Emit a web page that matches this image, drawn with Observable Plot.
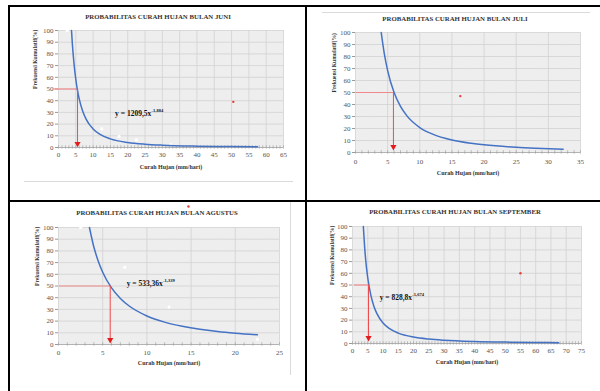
<!DOCTYPE html>
<html>
<head>
<meta charset="utf-8">
<script src="https://cdn.jsdelivr.net/npm/d3@7"></script>
<script src="https://cdn.jsdelivr.net/npm/@observablehq/plot@0.6"></script>
<style>
  html, body { margin: 0; padding: 0; background: #fff; }
  #page { position: relative; width: 600px; height: 391px; overflow: hidden; background: #fff; }
  .line { position: absolute; background: #000; }
  .faint { position: absolute; background: #dadada; }
  .panel { position: absolute; }
  .title { position: absolute; transform: translate(-50%, -50%); white-space: nowrap;
           font-family: "Liberation Serif", "DejaVu Serif", serif; font-weight: bold;
           font-size: 6.8px; color: #333; }
</style>
</head>
<body>
<div id="page">
  <div class="faint" style="left:24px;top:181px;width:269px;height:1px"></div>
  <div class="faint" style="left:322px;top:12px;width:268px;height:1px"></div>
  <div class="faint" style="left:290px;top:202px;width:1px;height:173px"></div>
</div>
<script>
// ---------- data ----------
const titles = [
  "PROBABILITAS CURAH HUJAN BULAN JUNI",
  "PROBABILITAS CURAH HUJAN BULAN JULI",
  "PROBABILITAS CURAH HUJAN BULAN AGUSTUS",
  "PROBABILITAS CURAH HUJAN BULAN SEPTEMBER"
];
const xTitle = "Curah Hujan (mm/hari)";
const yTitle = "Frekuensi Kumulatif(%)";
const yTicks = [0, 10, 20, 30, 40, 50, 60, 70, 80, 90, 100];

const juniTicks = [0, 5, 10, 15, 20, 25, 30, 35, 40, 45, 50, 55, 60, 65];
const juliTicks = [0, 5, 10, 15, 20, 25, 30, 35];
const agustusTicks = [0, 5, 10, 15, 20, 25];
const septemberTicks = [0, 5, 10, 15, 20, 25, 30, 35, 40, 45, 50, 55, 60, 65, 70, 75];

// fitted curves
const juniX = [3.76, 4, 4.5, 5, 5.5, 6, 7, 8, 10, 12, 15, 20, 25, 30, 40, 50, 57.5];
const juniY = [100, 88.8, 71.1, 58.3, 48.7, 41.3, 30.9, 24.0, 15.8, 11.2, 7.36, 4.28, 2.81, 1.99, 1.16, 0.76, 0.59];
const juliX = [4, 4.5, 5, 6, 7, 8, 10, 12, 15, 18, 20, 25, 28, 32.3];
const juliY = [100, 81.7, 68.2, 49.9, 38.4, 30.5, 20.8, 15.3, 10.4, 7.64, 6.37, 4.35, 3.59, 2.81];
const agustusX = [3.5, 4, 4.5, 5, 6, 7, 8, 10, 12, 14, 16, 18, 20, 22.5];
const agustusY = [100, 83.3, 71.2, 61.8, 48.4, 39.4, 32.9, 24.4, 19.1, 15.6, 13.0, 11.1, 9.66, 8.24];
const septemberX = [3.55, 4, 4.5, 5, 6, 7, 8, 10, 12, 15, 20, 25, 30, 40, 50, 60, 67.5];
const septemberY = [100, 81.5, 66.8, 56.0, 41.3, 31.9, 25.5, 17.5, 12.9, 8.91, 5.50, 3.79, 2.79, 1.72, 1.19, 0.88, 0.72];

// faint white observation markers
const juniPtsX = [2.5, 12.5, 17.5, 22.5, 32.5];
const juniPtsY = [100, 16, 9.5, 6.5, 2.5];
const agustusPtsX = [2.5, 7.5, 12.5, 22.5];
const agustusPtsY = [100, 66, 32, 4.5];

// stray red markers
const redDotX = [50.5, 16.3, 14.7, 55];
const redDotY = [39, 47, 118, 60];

// 50% read-off lines
const readStartX = [-1.4, 0.1, 0.1, 0.6];
const readX = [5.5, 5.9, 5.85, 5.25];
const readLevel = 50;
const arrowY = [3.2, 4.7, 4, 4.8];

// equations
const eqMain = ["y = 1209,5x", null, "y = 533,36x", "y = 828,8x"];
const eqExp = ["-1,884", null, "-1,339", "-1,674"];
const eqX = [26.8, null, 11.8, 19.5];
const eqY = [29, null, 52, 39.6];

// ---------- layout ----------
const panels = [
  {left: 20, top: 22, w: 225, h: 117, mt: 8, xmax: 65, ticks: juniTicks, cx: juniX, cy: juniY, px: juniPtsX, py: juniPtsY, tickPad: 5, xtOff: 21, ytOff: 23, tx: 158, ty: 16},
  {left: 317, top: 24, w: 225, h: 120, mt: 8, xmax: 35, ticks: juliTicks, cx: juliX, cy: juliY, px: [], py: [], tickPad: 7, xtOff: 22, ytOff: 21, tx: 455, ty: 18},
  {left: 20, top: 200, w: 221, h: 117, mt: 27, xmax: 25, ticks: agustusTicks, cx: agustusX, cy: agustusY, px: agustusPtsX, py: agustusPtsY, tickPad: 6, xtOff: 20, ytOff: 21.5, tx: 157, ty: 212},
  {left: 314, top: 218, w: 229, h: 117, mt: 8, xmax: 75, ticks: septemberTicks, cx: septemberX, cy: septemberY, px: [], py: [], tickPad: 5, xtOff: 20, ytOff: 20.5, tx: 455, ty: 211}
];

const page = document.getElementById("page");
const font = "Liberation Serif";

panels.forEach((p, i) => {
  const ml = 38, mr = 12, mb = 34;
  const curve = p.cx.map((x, k) => ({x, y: p.cy[k]}));
  const pts = p.px.map((x, k) => ({x, y: p.py[k]}));
  const minor = d3.range(0, p.xmax + 0.001, 1);
  const hatchId = "hatch" + i;
  const marks = [
    Plot.frame({fill: `url(#${hatchId})`, stroke: null}),
    Plot.gridX(p.ticks, {stroke: "#d2d2d2", strokeOpacity: 1, strokeWidth: 0.8}),
    Plot.gridY(yTicks, {stroke: "#d2d2d2", strokeOpacity: 1, strokeWidth: 0.8}),
    Plot.ruleY([0], {stroke: "#a8a8a8", strokeWidth: 0.8}),
    Plot.ruleX(minor, {y1: -1.5, y2: 1.5, stroke: "#9a9a9a", strokeWidth: 0.6}),
    Plot.axisX(p.ticks, {anchor: "bottom", tickSize: 0, tickPadding: p.tickPad, label: null, fontSize: 7, fill: "#555"}),
    Plot.axisY(yTicks, {anchor: "left", tickSize: 3, tickPadding: 2, label: null, fontSize: 7, fill: "#555", stroke: "#999"}),
    Plot.text([xTitle], {frameAnchor: "bottom", dy: p.xtOff, fontWeight: "bold", fontSize: 6, fill: "#333"}),
    Plot.text([yTitle], {frameAnchor: "left", dx: -p.ytOff, rotate: -90, fontWeight: "bold", fontSize: 5.6, fill: "#333"}),
    Plot.dot(pts, {x: "x", y: "y", r: 1.6, fill: "#fff", stroke: null}),
    Plot.ruleY([{y: readLevel, x1: readStartX[i], x2: readX[i]}], {y: "y", x1: "x1", x2: "x2", stroke: "#f08a8a", strokeWidth: 1.2}),
    Plot.line(curve, {x: "x", y: "y", curve: "monotone-x", stroke: "#4472c4", strokeWidth: 1.5}),
    Plot.ruleX([{x: readX[i], y1: readLevel, y2: arrowY[i]}], {x: "x", y1: "y1", y2: "y2", stroke: "#ee4b4b", strokeWidth: 1}),
    Plot.dot([{x: readX[i], y: arrowY[i]}], {x: "x", y: "y", symbol: "triangle", r: 2.3, rotate: 180, fill: "#e21c1c", stroke: null}),
    Plot.dot([{x: redDotX[i], y: redDotY[i]}], {x: "x", y: "y", r: 1.2, fill: "#e8403a", stroke: null})
  ];
  if (eqMain[i]) {
    marks.push(Plot.text([{x: eqX[i], y: eqY[i], t: eqMain[i]}], {x: "x", y: "y", text: "t", textAnchor: "end", fontWeight: "bold", fontSize: 7.5, fill: "#111"}));
    marks.push(Plot.text([{x: eqX[i], y: eqY[i], t: eqExp[i]}], {x: "x", y: "y", text: "t", textAnchor: "start", dy: -3, dx: 0.3, fontWeight: "bold", fontSize: 4.5, fill: "#111"}));
  }
  const svg = Plot.plot({
    width: ml + p.w + mr,
    height: p.mt + p.h + mb,
    marginLeft: ml, marginRight: mr, marginTop: p.mt, marginBottom: mb,
    x: {domain: [0, p.xmax]},
    y: {domain: [0, 100]},
    style: {fontFamily: font, fontSize: "7px", color: "#555", background: "transparent", overflow: "visible"},
    marks
  });
  // hatched plot-area pattern
  const NS = "http://www.w3.org/2000/svg";
  const defs = document.createElementNS(NS, "defs");
  const pat = document.createElementNS(NS, "pattern");
  pat.setAttribute("id", hatchId);
  pat.setAttribute("width", "3");
  pat.setAttribute("height", "3");
  pat.setAttribute("patternUnits", "userSpaceOnUse");
  const bg = document.createElementNS(NS, "rect");
  bg.setAttribute("width", "3"); bg.setAttribute("height", "3"); bg.setAttribute("fill", "#f3f3f3");
  const ln = document.createElementNS(NS, "path");
  ln.setAttribute("d", "M0,3 L3,0");
  ln.setAttribute("stroke", "#dedede"); ln.setAttribute("stroke-width", "0.7");
  pat.appendChild(bg); pat.appendChild(ln); defs.appendChild(pat);
  svg.insertBefore(defs, svg.firstChild);

  const wrap = document.createElement("div");
  wrap.className = "panel";
  wrap.style.left = p.left + "px";
  wrap.style.top = p.top + "px";
  wrap.appendChild(svg);
  page.appendChild(wrap);

  const t = document.createElement("div");
  t.className = "title";
  t.style.left = p.tx + "px";
  t.style.top = p.ty + "px";
  t.textContent = titles[i];
  page.appendChild(t);
});

// table borders
[
  {left: 8, top: 5, width: 592, height: 2},
  {left: 8, top: 5, width: 2, height: 386},
  {left: 305, top: 5, width: 2, height: 386},
  {left: 8, top: 200, width: 592, height: 2}
].forEach(b => {
  const d = document.createElement("div");
  d.className = "line";
  Object.assign(d.style, {left: b.left + "px", top: b.top + "px", width: b.width + "px", height: b.height + "px"});
  page.appendChild(d);
});
</script>
</body>
</html>
